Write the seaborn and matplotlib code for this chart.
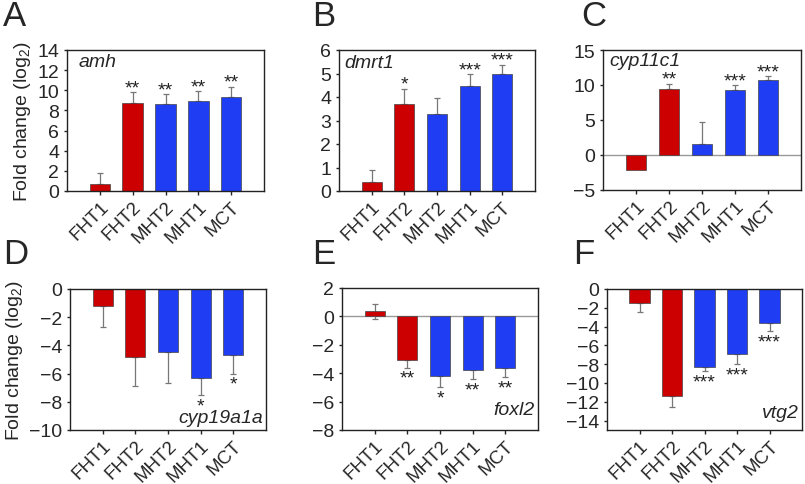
import numpy as np
import pandas as pd
import matplotlib
matplotlib.use("Agg")
import matplotlib.pyplot as plt
import seaborn as sns

# ---------------- data ----------------
categories = ["FHT1", "FHT2", "MHT2", "MHT1", "MCT"]
bar_colors = ["#CC0000", "#CC0000", "#1F3DF2", "#1F3DF2", "#1F3DF2"]

amh_values = [0.65, 8.7, 8.6, 8.95, 9.35]
amh_err_out = [1.15, 1.1, 1.0, 0.95, 1.0]
amh_err_in = [0, 0, 0, 0, 0]
amh_stars = ["", "**", "**", "**", "**"]

dmrt1_values = [0.4, 3.72, 3.28, 4.48, 4.97]
dmrt1_err_out = [0.48, 0.63, 0.69, 0.49, 0.41]
dmrt1_err_in = [0, 0, 0, 0, 0]
dmrt1_stars = ["", "*", "", "***", "***"]

cyp11c1_values = [-2.1, 9.45, 1.6, 9.3, 10.65]
cyp11c1_err_out = [0, 0.75, 3.15, 0.7, 0.6]
cyp11c1_err_in = [0, 0, 0, 0, 0]
cyp11c1_stars = ["", "**", "", "***", "***"]

cyp19a1a_values = [-1.2, -4.85, -4.5, -6.3, -4.7]
cyp19a1a_err_out = [1.5, 2.05, 2.15, 1.2, 1.3]
cyp19a1a_err_in = [0, 0, 0, 0, 0]
cyp19a1a_stars = ["", "", "", "*", "*"]

foxl2_values = [0.35, -3.05, -4.2, -3.75, -3.6]
foxl2_err_out = [0.55, 0.55, 0.8, 0.65, 0.65]
foxl2_err_in = [0.5, 0, 0, 0, 0]
foxl2_stars = ["", "**", "*", "**", "**"]

vtg2_values = [-1.45, -11.35, -8.3, -6.9, -3.6]
vtg2_err_out = [0.95, 1.15, 0.45, 1.1, 0.9]
vtg2_err_in = [0, 0, 0, 0, 0]
vtg2_stars = ["", "", "***", "***", "***"]

panel_letters = ["A", "B", "C", "D", "E", "F"]
gene_names = ["amh", "dmrt1", "cyp11c1", "cyp19a1a", "foxl2", "vtg2"]
y_limits = [(0, 14), (0, 6), (-5, 15), (-10, 0), (-8, 2), (-15, 0)]
y_ticks = [np.arange(0, 15, 2), np.arange(0, 7, 1), np.arange(-5, 16, 5),
           np.arange(-10, 1, 2), np.arange(-8, 3, 2), np.arange(-14, 1, 2)]
y_label = "Fold change (log$_2$)"

panels = [
    (amh_values, amh_err_out, amh_err_in, amh_stars),
    (dmrt1_values, dmrt1_err_out, dmrt1_err_in, dmrt1_stars),
    (cyp11c1_values, cyp11c1_err_out, cyp11c1_err_in, cyp11c1_stars),
    (cyp19a1a_values, cyp19a1a_err_out, cyp19a1a_err_in, cyp19a1a_stars),
    (foxl2_values, foxl2_err_out, foxl2_err_in, foxl2_stars),
    (vtg2_values, vtg2_err_out, vtg2_err_in, vtg2_stars),
]

# ---------------- style ----------------
sns.set_theme(style="ticks")
plt.rcParams['font.family'] = ['Liberation Sans', 'DejaVu Sans']
plt.rcParams['mathtext.fontset'] = 'custom'
plt.rcParams['mathtext.rm'] = 'Liberation Sans'
plt.rcParams['mathtext.it'] = 'Liberation Sans:italic'

W, H = 805, 485
fig = plt.figure(figsize=(W / 100, H / 100), dpi=100)

# axes boxes in pixel coords: left, right, top, bottom
boxes = [(67, 264, 51, 192), (339, 535, 51, 192), (603, 801, 51, 191),
         (70, 266, 290, 431), (342, 538, 289, 431), (607, 802, 290, 431)]
letter_pos = [(3, 0), (312, 0), (581, 0), (3, 238), (312, 238), (573, 238)]
gene_pos = [(0.06, 0.885), (0.025, 0.88), (0.03, 0.89),
            (0.985, 0.06), (0.985, 0.113), (0.985, 0.092)]

for i, (vals, eout, ein, stars) in enumerate(panels):
    l, r, t, b = boxes[i]
    ax = fig.add_axes([l / W, 1 - b / H, (r - l) / W, (b - t) / H])
    df = pd.DataFrame({"group": categories, "value": vals})
    sns.barplot(data=df, x="group", y="value", hue="group", palette=bar_colors,
                order=categories, hue_order=categories, legend=False,
                width=0.62, edgecolor="#444444", linewidth=0.5, ax=ax,
                saturation=1, zorder=2)
    x = np.arange(len(categories))
    v = np.array(vals)
    sgn = np.where(v >= 0, 1, -1)
    eo = np.array(eout)
    ei = np.array(ein)
    lower = np.where(sgn > 0, ei, eo)
    upper = np.where(sgn > 0, eo, ei)
    mask = (eo > 0) | (ei > 0)
    ax.errorbar(x[mask], v[mask], yerr=[lower[mask], upper[mask]], fmt="none",
                ecolor="#777777", elinewidth=0.9, capsize=2.5, capthick=0.9,
                zorder=1)
    ax.set_ylim(*y_limits[i])
    ax.set_yticks(y_ticks[i])
    ax.set_xlim(-1.0, 5.0)
    ymin, ymax = y_limits[i]
    if ymin < 0 < ymax:
        ax.axhline(0, color="#999999", lw=1.0, zorder=1.5)
    for xi, val, e, s in zip(x, v, eo, stars):
        if not s:
            continue
        end = val + np.sign(val) * e
        if val >= 0:
            ax.annotate(s, (xi, end), xytext=(0, 0), textcoords="offset points",
                        ha="center", va="baseline", fontsize=14, color="#222222")
        else:
            ax.annotate(s, (xi, end), xytext=(0, -11.0), textcoords="offset points",
                        ha="center", va="baseline", fontsize=14, color="#222222")
    gx, gy = gene_pos[i]
    ax.text(gx, gy, gene_names[i], transform=ax.transAxes,
            ha="left" if i < 3 else "right", va="baseline", fontsize=14,
            style="italic")
    ax.set_xlabel("")
    ax.set_ylabel(y_label if i in (0, 3) else "", fontsize=14, labelpad=3)
    ax.tick_params(axis="y", labelsize=14, length=2.5, width=1, direction="out", pad=3)
    ax.tick_params(axis="x", labelsize=13.5, length=3, width=1, direction="out", pad=2)
    plt.setp(ax.get_xticklabels(), rotation=45, ha="right", rotation_mode="anchor")
    for sp in ax.spines.values():
        sp.set_visible(True)
        sp.set_color("#222222")
        sp.set_linewidth(1.0)
    lx, ly = letter_pos[i]
    fig.text(lx / W, 1 - ly / H, panel_letters[i], fontsize=25, ha="left", va="top")

fig.savefig("out.png", dpi=100)
